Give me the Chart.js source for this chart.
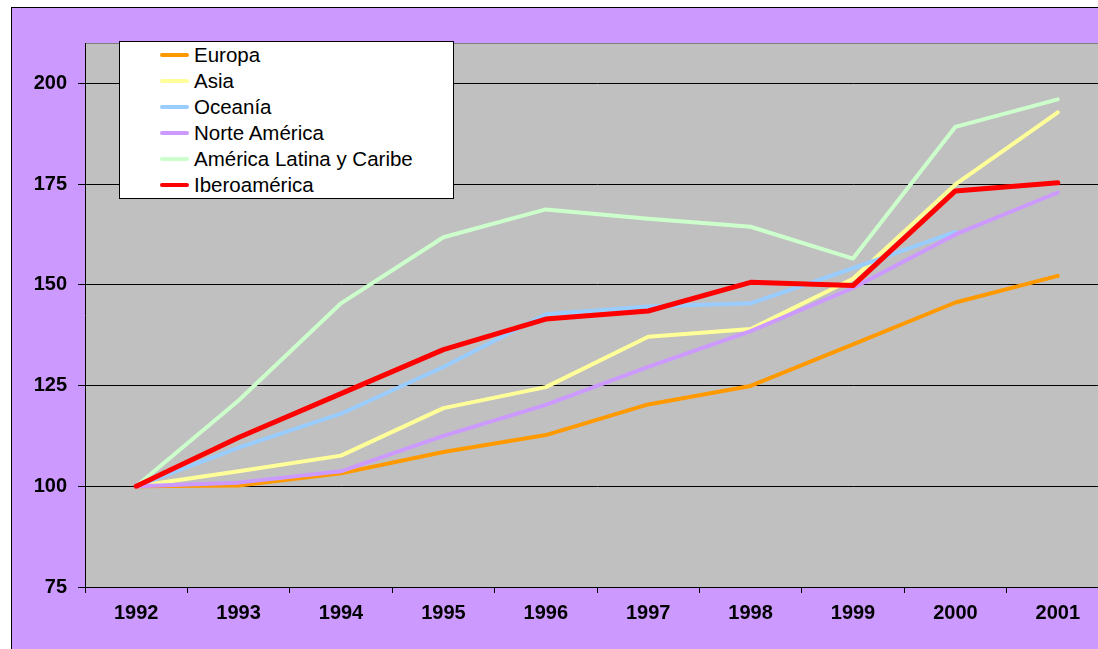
<!DOCTYPE html>
<html>
<head>
<meta charset="utf-8">
<script src="https://cdn.jsdelivr.net/npm/chart.js@4/dist/chart.umd.min.js"></script>
<style>
  body { margin: 0; background: #fff; overflow: hidden; width: 1098px; height: 649px; position: relative; font-family: Arial, "Liberation Sans", sans-serif; }
  #marco { position: absolute; left: 11px; top: 7px; width: 1120px; height: 660px; border: 1px solid #000; background: #CC99FF; }
  #grafico { position: absolute; left: 0; top: 0; }
  #leyenda { position: absolute; left: 107px; top: 33px; width: 333px; height: 156px; background: #fff; border: 1px solid #000; }
  .item { position: absolute; left: 40px; height: 26px; line-height: 26px; font-size: 20.5px; color: #000; white-space: nowrap; }
  .item span.linea { position: absolute; left: 0; top: 11px; width: 29px; height: 4px; border-radius: 2px; }
  .item span.texto { position: absolute; left: 34px; top: 0; }
</style>
</head>
<body>
<div id="marco">
  <canvas id="grafico" width="1120" height="660"></canvas>
  <div id="leyenda"></div>
</div>
<script>
// datos (índice 1992 = 100)
const anios = ['1992', '1993', '1994', '1995', '1996', '1997', '1998', '1999', '2000', '2001'];
const europa = [100, 100.2, 103.2, 108.5, 112.7, 120.3, 124.9, 135.2, 145.6, 152.2];
const asia = [100, 103.7, 107.6, 119.4, 124.6, 137.1, 139.0, 151.5, 174.9, 192.8];
const oceania = [100, 109.6, 118.0, 129.6, 142.7, 144.6, 145.4, 154.1, 163.1, null];
const norteAmerica = [100, 100.9, 103.7, 112.5, 120.2, 129.6, 138.5, 149.2, 162.5, 172.9];
const americaLatina = [100, 121.3, 145.4, 161.8, 168.7, 166.4, 164.4, 156.5, 189.2, 196.0];
const iberoamerica = [100, 112.1, 123.0, 133.9, 141.5, 143.5, 150.6, 149.8, 173.3, 175.3];
const ticksY = [75, 100, 125, 150, 175, 200];

const series = [
  { label: 'Europa', data: europa, color: '#FF9900', ancho: 4 },
  { label: 'Asia', data: asia, color: '#FFFF99', ancho: 4 },
  { label: 'Oceanía', data: oceania, color: '#99CCFF', ancho: 4 },
  { label: 'Norte América', data: norteAmerica, color: '#CC99FF', ancho: 4 },
  { label: 'América Latina y Caribe', data: americaLatina, color: '#CCFFCC', ancho: 4 },
  { label: 'Iberoamérica', data: iberoamerica, color: '#FF0000', ancho: 5 }
];

// leyenda
const leyenda = document.getElementById('leyenda');
series.forEach((s, i) => {
  const div = document.createElement('div');
  div.className = 'item';
  div.style.top = (i * 26) + 'px';
  div.innerHTML = '<span class="linea" style="background:' + s.color + '"></span><span class="texto">' + s.label + '</span>';
  leyenda.appendChild(div);
});

const fondoArea = {
  id: 'fondoArea',
  beforeDraw(chart) {
    const a = chart.chartArea;
    const ctx = chart.ctx;
    ctx.save();
    ctx.fillStyle = '#C0C0C0';
    ctx.fillRect(a.left, a.top, a.right - a.left, a.bottom - a.top);
    ctx.strokeStyle = '#808080';
    ctx.lineWidth = 1;
    ctx.beginPath();
    ctx.moveTo(a.left, a.top + 0.5);
    ctx.lineTo(a.right, a.top + 0.5);
    ctx.stroke();
    ctx.restore();
  }
};

const fuente = { family: 'Arial, "Liberation Sans", sans-serif', size: 20, weight: 'bold' };

const config = {
  type: 'line',
  data: {
    labels: anios,
    datasets: series.map((s, i) => ({
      label: s.label,
      data: s.data,
      borderColor: s.color,
      backgroundColor: s.color,
      borderWidth: s.ancho,
      borderCapStyle: 'round',
      borderJoinStyle: 'round',
      pointRadius: 0,
      tension: 0,
      fill: false,
      spanGaps: false,
      order: series.length - i
    }))
  },
  options: {
    responsive: false,
    animation: false,
    layout: { padding: { left: 0, top: 35, right: 23, bottom: 31 } },
    plugins: {
      legend: { display: false },
      tooltip: { enabled: false }
    },
    scales: {
      x: {
        type: 'category',
        offset: true,
        afterFit: (s) => { s.height = 50; },
        grid: { offset: true, drawOnChartArea: false, drawTicks: true, tickLength: 6, color: '#000' },
        border: { color: '#000', width: 1 },
        ticks: { color: '#000', font: fuente, padding: 8, maxRotation: 0 }
      },
      y: {
        min: 75,
        max: 210,
        afterFit: (s) => { s.width = 73; },
        afterBuildTicks: (s) => { s.ticks = ticksY.map(v => ({ value: v })); },
        grid: { color: '#000', lineWidth: 1, tickLength: 7 },
        border: { color: '#000', width: 1 },
        ticks: { color: '#000', font: fuente, padding: 11 }
      }
    }
  },
  plugins: [fondoArea]
};

const grafico = new Chart(document.getElementById('grafico'), config);
</script>
</body>
</html>
